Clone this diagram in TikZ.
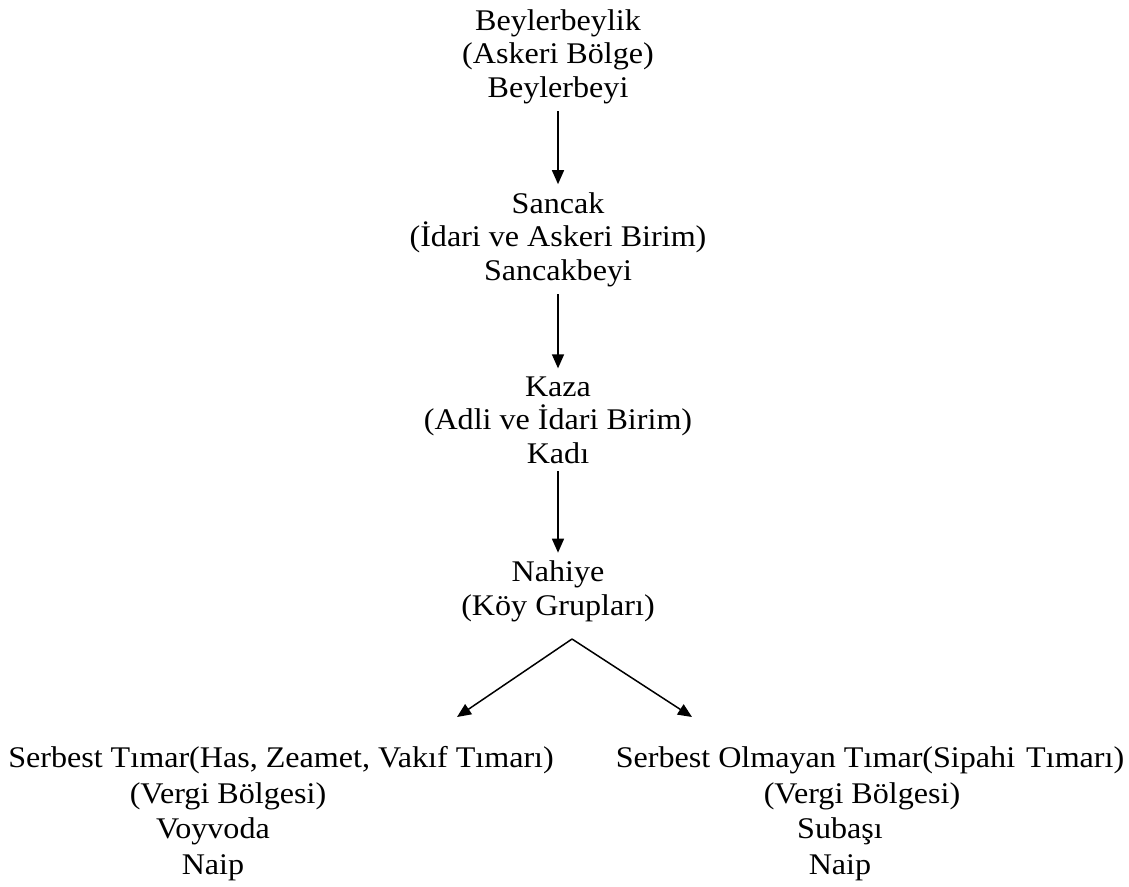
\documentclass[tikz,border=0pt]{standalone}
\usepackage{fontspec}
\setmainfont{Liberation Serif}[FakeStretch=1.07]
\usetikzlibrary{arrows.meta}
\tikzset{
  lvl/.style={align=center, inner sep=0pt, outer sep=8pt, anchor=base, font=\fontsize{30}{33.5}\selectfont},
  tmr/.style={lvl, font=\fontsize{30}{35.5}\selectfont},
  sig/.style={-{Triangle[length=14pt,width=12pt]}, line width=1.5pt},
}

\begin{document}
\begin{tikzpicture}[x=1pt,y=-1pt]
    \useasboundingbox (0,0) rectangle (1129,886);
    % base anchor = baseline of the last line
    \node[lvl] (beylik) at (558,97) {Beylerbeylik\\(Askeri Bölge)\\Beylerbeyi};
    \node[lvl] (sancak) at (558,280) {Sancak\\(İdari ve Askeri Birim)\\Sancakbeyi};
    \node[lvl] (kaza) at (558,463) {Kaza\\(Adli ve İdari Birim)\\Kadı};
    \node[lvl] (nahiye) at (558,615) {Nahiye\\(Köy Grupları)};
    % tımar kinds
    \node[tmr] (serbest) at (281,767) {Serbest Tımar(Has, Zeamet, Vakıf Tımarı)};
    \node[tmr] (serbestvergi) at (228,803) {(Vergi Bölgesi)};
    \node[tmr] (serbestamir) at (213,874) {Voyvoda\\Naip};
    \node[tmr] (sipahi) at (870,767) {Serbest Olmayan Tımar(Sipahi\hspace{3pt} Tımarı)};
    \node[tmr] (sipahivergi) at (862,803) {(Vergi Bölgesi)};
    \node[tmr] (sipahiamir) at (840,874) {Subaşı\\Naip};
    \coordinate (fork) at (572,639);
    \coordinate (ltip) at (457,717);
    \coordinate (rtip) at (692,717);
    \draw[sig] (beylik) -- (sancak);
    \draw[sig] (sancak) -- (kaza);
    \draw[sig] (kaza) -- (nahiye);
    \draw[sig] (fork) -- (ltip);
    \draw[sig] (fork) -- (rtip);
\end{tikzpicture}
\end{document}
